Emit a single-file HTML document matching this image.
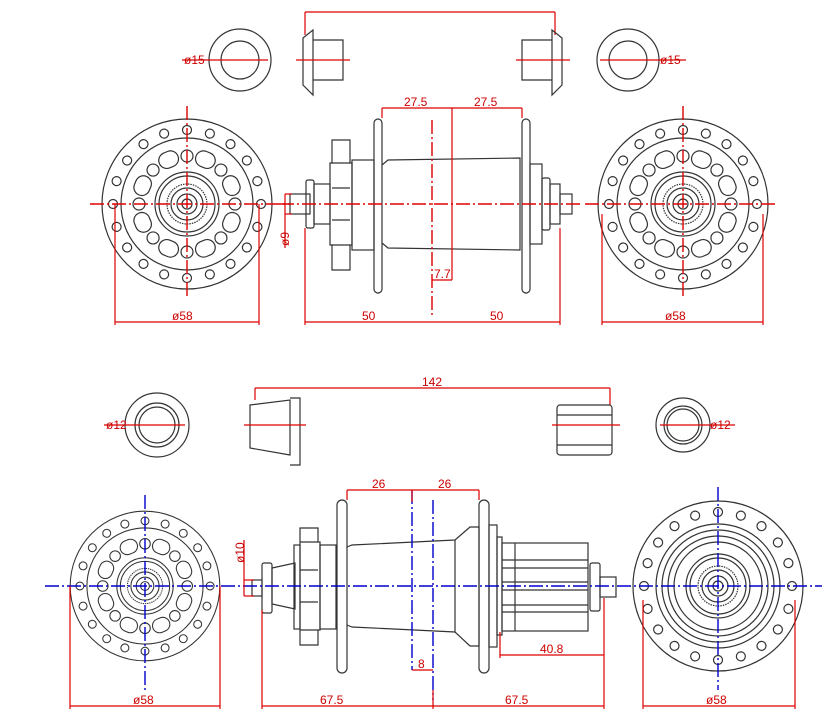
<!DOCTYPE html>
<html><head><meta charset="utf-8"><style>
html,body{margin:0;padding:0;background:#fff;}
svg{display:block;}
text{font-family:"Liberation Sans",sans-serif;font-size:12px;fill:#c00;}
.k{fill:none;stroke:#333;stroke-width:1.2;}
.r{fill:none;stroke:#d00;stroke-width:1.2;}
.b{fill:none;stroke:#00c;stroke-width:1.4;stroke-dasharray:14 3 2 3;}
.rc{fill:none;stroke:#d00;stroke-width:1.4;stroke-dasharray:14 3 2 3;}
</style></head><body>
<svg width="833" height="728" viewBox="0 0 833 728" xmlns="http://www.w3.org/2000/svg">
<defs>
<g id="h20">
<circle class="k" cx="74" cy="0" r="4.5"/><circle class="k" cx="74" cy="0" r="4.5" transform="rotate(18)"/><circle class="k" cx="74" cy="0" r="4.5" transform="rotate(36)"/><circle class="k" cx="74" cy="0" r="4.5" transform="rotate(54)"/><circle class="k" cx="74" cy="0" r="4.5" transform="rotate(72)"/><circle class="k" cx="74" cy="0" r="4.5" transform="rotate(90)"/><circle class="k" cx="74" cy="0" r="4.5" transform="rotate(108)"/><circle class="k" cx="74" cy="0" r="4.5" transform="rotate(126)"/><circle class="k" cx="74" cy="0" r="4.5" transform="rotate(144)"/><circle class="k" cx="74" cy="0" r="4.5" transform="rotate(162)"/><circle class="k" cx="74" cy="0" r="4.5" transform="rotate(180)"/><circle class="k" cx="74" cy="0" r="4.5" transform="rotate(198)"/><circle class="k" cx="74" cy="0" r="4.5" transform="rotate(216)"/><circle class="k" cx="74" cy="0" r="4.5" transform="rotate(234)"/><circle class="k" cx="74" cy="0" r="4.5" transform="rotate(252)"/><circle class="k" cx="74" cy="0" r="4.5" transform="rotate(270)"/><circle class="k" cx="74" cy="0" r="4.5" transform="rotate(288)"/><circle class="k" cx="74" cy="0" r="4.5" transform="rotate(306)"/><circle class="k" cx="74" cy="0" r="4.5" transform="rotate(324)"/><circle class="k" cx="74" cy="0" r="4.5" transform="rotate(342)"/>
</g>
<g id="in8">
<circle class="k" cx="48" cy="0" r="6"/><circle class="k" cx="48" cy="0" r="6" transform="rotate(45)"/><circle class="k" cx="48" cy="0" r="6" transform="rotate(90)"/><circle class="k" cx="48" cy="0" r="6" transform="rotate(135)"/><circle class="k" cx="48" cy="0" r="6" transform="rotate(180)"/><circle class="k" cx="48" cy="0" r="6" transform="rotate(225)"/><circle class="k" cx="48" cy="0" r="6" transform="rotate(270)"/><circle class="k" cx="48" cy="0" r="6" transform="rotate(315)"/>
<rect class="k" x="40" y="-10" width="16" height="20" rx="8" transform="rotate(22.5)"/><rect class="k" x="40" y="-10" width="16" height="20" rx="8" transform="rotate(67.5)"/><rect class="k" x="40" y="-10" width="16" height="20" rx="8" transform="rotate(112.5)"/><rect class="k" x="40" y="-10" width="16" height="20" rx="8" transform="rotate(157.5)"/><rect class="k" x="40" y="-10" width="16" height="20" rx="8" transform="rotate(202.5)"/><rect class="k" x="40" y="-10" width="16" height="20" rx="8" transform="rotate(247.5)"/><rect class="k" x="40" y="-10" width="16" height="20" rx="8" transform="rotate(292.5)"/><rect class="k" x="40" y="-10" width="16" height="20" rx="8" transform="rotate(337.5)"/>
</g>
<g id="core">
<circle class="k" r="32"/><circle class="k" r="28"/><circle class="k" r="20" stroke-width="3" stroke-dasharray="1.5 1"/><circle class="k" r="16"/><circle class="k" r="10"/><circle class="k" r="5"/>
</g>
<g id="fl">
<circle class="k" r="85"/><circle class="k" r="66"/>
<use href="#h20"/><use href="#in8"/><use href="#core"/>
</g>
</defs>

<line class="r" x1="305" y1="12" x2="555" y2="12"/>
<line class="r" x1="305" y1="12" x2="305" y2="35"/><line class="r" x1="555" y1="12" x2="555" y2="35"/>
<circle class="k" cx="240" cy="60" r="31"/><circle class="k" cx="240" cy="60" r="19"/>
<line class="r" x1="182" y1="60" x2="268" y2="60"/><text x="184" y="64">ø15</text>
<circle class="k" cx="628" cy="60" r="31"/><circle class="k" cx="628" cy="60" r="19"/>
<line class="r" x1="600" y1="60" x2="686" y2="60"/><text x="660" y="64">ø15</text>
<path class="k" d="M303 38 L313 30 L313 95 L303 85 Z M313 40 H343 V80 H313 M313 30 V95"/>
<line class="r" x1="296" y1="60" x2="350" y2="60"/>
<path class="k" d="M562 38 L552 30 L552 95 L562 85 Z M552 40 H522 V80 H552"/>
<line class="r" x1="516" y1="60" x2="570" y2="60"/>

<use href="#fl" x="187" y="204"/>
<use href="#fl" x="683" y="204"/>
<line class="rc" x1="90" y1="204" x2="290" y2="204"/>
<line class="rc" x1="187" y1="106" x2="187" y2="298"/>
<line class="rc" x1="585" y1="204" x2="775" y2="204"/>
<line class="rc" x1="683" y1="106" x2="683" y2="298"/>

<rect class="k" x="290" y="194" width="20" height="20"/>
<rect class="k" x="306" y="180" width="8" height="48" rx="2"/>
<rect class="k" x="314" y="184" width="16" height="40"/>
<path class="k" d="M332 140 H350 V163 H352 V245 H350 V270 H332 V245 H330 V163 H332 Z"/>
<line class="k" x1="332" y1="163" x2="350" y2="163"/><line class="k" x1="332" y1="188" x2="350" y2="188"/><line class="k" x1="332" y1="220" x2="350" y2="220"/><line class="k" x1="332" y1="245" x2="350" y2="245"/>
<rect class="k" x="352" y="160" width="22" height="90"/>
<rect class="k" x="374" y="119" width="8" height="174" rx="4"/>
<path class="k" d="M382 165 L388 160 L520 158 V250 L388 248 L382 243"/>
<rect class="k" x="522" y="119" width="8" height="174" rx="4"/>
<rect class="k" x="530" y="164" width="12" height="80"/>
<rect class="k" x="542" y="178" width="8" height="52" rx="2"/>
<rect class="k" x="550" y="184" width="10" height="40"/>
<rect class="k" x="560" y="194" width="12" height="20"/>
<line class="rc" x1="280" y1="204" x2="580" y2="204"/>
<line class="rc" x1="432" y1="120" x2="432" y2="318"/>
<line class="r" x1="452" y1="108" x2="452" y2="280"/>
<line class="r" x1="382" y1="108" x2="522" y2="108"/>
<line class="r" x1="382" y1="108" x2="382" y2="118"/><line class="r" x1="522" y1="108" x2="522" y2="118"/>
<text x="404" y="106">27.5</text><text x="474" y="106">27.5</text>
<line class="r" x1="432" y1="280" x2="452" y2="280"/><text x="434" y="278">7.7</text>
<line class="r" x1="285" y1="194" x2="292" y2="194"/><line class="r" x1="285" y1="214" x2="292" y2="214"/><line class="r" x1="285" y1="194" x2="285" y2="248"/>
<text x="0" y="0" transform="translate(289,246) rotate(-90)">ø9</text>
<line class="r" x1="305" y1="322" x2="560" y2="322"/>
<line class="r" x1="305" y1="228" x2="305" y2="325"/><line class="r" x1="560" y1="228" x2="560" y2="325"/>
<text x="362" y="320">50</text><text x="490" y="320">50</text>
<line class="r" x1="115" y1="322" x2="259" y2="322"/>
<line class="r" x1="115" y1="204" x2="115" y2="325"/><line class="r" x1="259" y1="204" x2="259" y2="325"/>
<text x="172" y="320">ø58</text>
<line class="r" x1="602" y1="322" x2="763" y2="322"/>
<line class="r" x1="602" y1="214" x2="602" y2="325"/><line class="r" x1="763" y1="214" x2="763" y2="325"/>
<text x="665" y="320">ø58</text>

<line class="r" x1="255" y1="388" x2="610" y2="388"/>
<line class="r" x1="255" y1="388" x2="255" y2="400"/><line class="r" x1="610" y1="388" x2="610" y2="405"/>
<text x="422" y="386">142</text>
<circle class="k" cx="157" cy="425" r="32"/><circle class="k" cx="157" cy="425" r="22"/><circle class="k" cx="157" cy="425" r="18"/>
<line class="r" x1="104" y1="425" x2="185" y2="425"/><text x="106" y="429">ø12</text>
<circle class="k" cx="683" cy="425" r="27"/><circle class="k" cx="683" cy="425" r="19"/><circle class="k" cx="683" cy="425" r="16"/>
<line class="r" x1="660" y1="425" x2="735" y2="425"/><text x="710" y="429">ø12</text>
<path class="k" d="M250 405 L290 400 V455 L250 448 Z M290 398 H300 V465 H290"/>
<line class="r" x1="244" y1="425" x2="306" y2="425"/>
<rect class="k" x="557" y="405" width="55" height="50" rx="3"/>
<line class="k" x1="557" y1="415" x2="612" y2="415"/><line class="k" x1="557" y1="445" x2="612" y2="445"/>
<line class="r" x1="552" y1="425" x2="620" y2="425"/>

<g transform="translate(145,586) scale(0.88)"><use href="#fl"/></g>
<g transform="translate(718,586)">
<circle class="k" r="85"/><circle class="k" r="62"/><circle class="k" r="56"/><circle class="k" r="50"/><circle class="k" r="44"/>
<use href="#h20"/><use href="#core"/>
</g>

<rect class="k" x="252" y="580" width="10" height="16"/>
<rect class="k" x="262" y="563" width="10" height="50" rx="2"/>
<path class="k" d="M272 568 L295 563 V609 L272 604 Z"/>
<path class="k" d="M300 528 H318 V542 H320 V630 H318 V645 H300 Z"/>
<line class="k" x1="300" y1="542" x2="318" y2="542"/><line class="k" x1="300" y1="570" x2="318" y2="570"/><line class="k" x1="300" y1="602" x2="318" y2="602"/><line class="k" x1="300" y1="630" x2="318" y2="630"/>
<rect class="k" x="294" y="545" width="6" height="84"/>
<rect class="k" x="320" y="545" width="16" height="84"/>
<rect class="k" x="337" y="500" width="10" height="173" rx="5"/>
<path class="k" d="M347 547 L352 545 L455 540 L470 527 H479 V646 H470 L455 632 L352 627 L347 625"/>
<line class="k" x1="455" y1="540" x2="455" y2="632"/>
<rect class="k" x="479" y="500" width="10" height="173" rx="5"/>
<rect class="k" x="489" y="525" width="8" height="122"/>
<rect class="k" x="497" y="537" width="5" height="98"/>
<rect class="k" x="502" y="543" width="86" height="88"/>
<line class="k" x1="502" y1="560" x2="588" y2="560"/><line class="k" x1="502" y1="568" x2="588" y2="568"/>
<line class="k" x1="502" y1="582" x2="588" y2="582"/><line class="k" x1="502" y1="590" x2="588" y2="590"/>
<line class="k" x1="502" y1="605" x2="588" y2="605"/><line class="k" x1="502" y1="612" x2="588" y2="612"/>
<line class="k" x1="515" y1="543" x2="515" y2="631"/>
<rect class="k" x="590" y="563" width="10" height="48" rx="2"/>
<rect class="k" x="600" y="577" width="16" height="20"/>

<line class="b" x1="45" y1="586" x2="822" y2="586"/>
<line class="b" x1="145" y1="495" x2="145" y2="690"/>
<line class="b" x1="718" y1="487" x2="718" y2="690"/>
<line class="b" x1="433" y1="500" x2="433" y2="700"/>
<line class="b" x1="412" y1="490" x2="412" y2="670"/>
<line class="r" x1="347" y1="490" x2="479" y2="490"/>
<line class="r" x1="347" y1="490" x2="347" y2="500"/><line class="r" x1="479" y1="490" x2="479" y2="500"/><line class="r" x1="412" y1="490" x2="412" y2="502"/>
<text x="372" y="488">26</text><text x="438" y="488">26</text>
<line class="r" x1="412" y1="670" x2="433" y2="670"/><text x="418" y="668">8</text>
<line class="r" x1="500" y1="655" x2="604" y2="655"/>
<line class="r" x1="500" y1="632" x2="500" y2="658"/>
<text x="540" y="653">40.8</text>
<line class="r" x1="262" y1="706" x2="604" y2="706"/>
<line class="r" x1="262" y1="610" x2="262" y2="709"/><line class="r" x1="604" y1="598" x2="604" y2="709"/><line class="r" x1="433" y1="690" x2="433" y2="709"/>
<text x="320" y="704">67.5</text><text x="505" y="704">67.5</text>
<line class="r" x1="244" y1="580" x2="254" y2="580"/><line class="r" x1="244" y1="596" x2="254" y2="596"/><line class="r" x1="244" y1="540" x2="244" y2="596"/>
<text x="0" y="0" transform="translate(244,563) rotate(-90)">ø10</text>
<line class="r" x1="70" y1="706" x2="220" y2="706"/>
<line class="r" x1="70" y1="586" x2="70" y2="709"/><line class="r" x1="220" y1="586" x2="220" y2="709"/>
<text x="133" y="704">ø58</text>
<line class="r" x1="643" y1="706" x2="795" y2="706"/>
<line class="r" x1="643" y1="600" x2="643" y2="709"/><line class="r" x1="795" y1="600" x2="795" y2="709"/>
<text x="706" y="704">ø58</text>
</svg>
</body></html>
